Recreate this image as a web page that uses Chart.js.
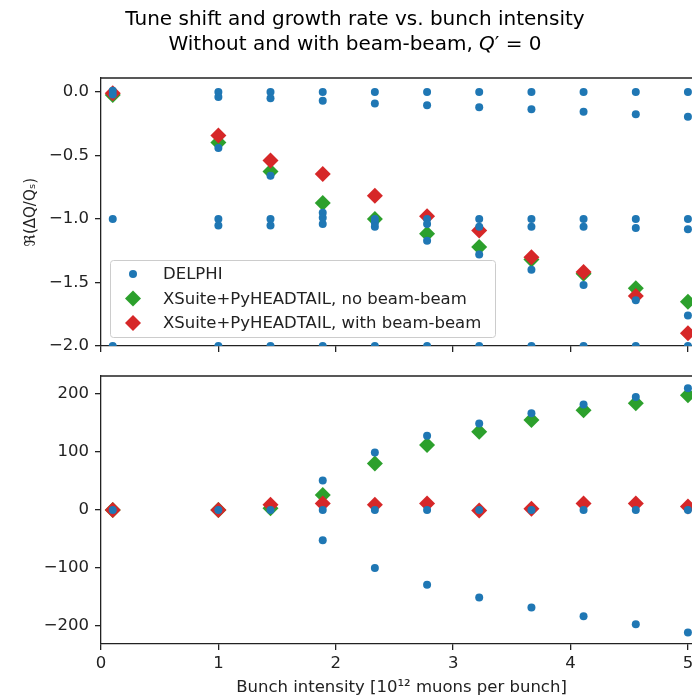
<!DOCTYPE html>
<html>
<head>
<meta charset="utf-8">
<script src="https://cdn.jsdelivr.net/npm/chart.js@4.4.1/dist/chart.umd.min.js"></script>
<style>
  html, body { margin: 0; padding: 0; background: #fff; overflow: hidden; }
  #wrap { position: relative; width: 692px; height: 700px; overflow: hidden; }
  canvas { position: absolute; left: 0; }
  #topChart { top: 0; }
  #bottomChart { top: 340px; }
</style>
</head>
<body>
<div id="wrap">
  <canvas id="topChart" width="720" height="362"></canvas>
  <canvas id="bottomChart" width="720" height="360"></canvas>
</div>
<script>
// bunch intensity [1e12 muons per bunch]
const intensity = [0.1, 1.0, 1.444, 1.889, 2.333, 2.778, 3.222, 3.667, 4.111, 4.556, 5.0];

// DELPHI, real part of tune shift (one array per mode branch)
const delphiReA = [0.01, 0, 0, 0, 0, 0, 0, 0, 0, 0, 0];
const delphiReB = [-0.02, -0.04, -0.05, -0.07, -0.09, -0.105, -0.12, -0.135, -0.155, -0.175, -0.195];
const delphiReC = [null, -0.44, -0.66, -0.95, -1.03, -1.17, -1.28, -1.40, -1.52, -1.64, -1.76];
const delphiReD = [-1.0, -1.0, -1.0, -0.99, -1.0, -1.0, -1.0, -1.0, -1.0, -1.0, -1.0];
const delphiReE = [null, -1.05, -1.05, -1.04, -1.06, -1.04, -1.06, -1.06, -1.06, -1.07, -1.08];
const delphiReF = [-2.0, -2.0, -2.0, -2.0, -2.0, -2.0, -2.0, -2.0, -2.0, -2.0, -2.0];

// DELPHI, growth rate
const delphiImZero = [0, 0, 0, 0, 0, 0, 0, 0, 0, 0, 0];
const delphiImPos = [null, null, null, 51, 99, 128, 149, 167, 182, 195, 210];
const delphiImNeg = [null, null, null, -52, -100, -129, -151, -168, -183, -197, -211];

// XSuite+PyHEADTAIL, no beam-beam
const noBbRe = [-0.024, -0.397, -0.625, -0.873, -1.0, -1.116, -1.221, -1.318, -1.43, -1.545, -1.65];
const noBbIm = [0, 0, 3, 26, 80, 112, 135, 155, 172, 184, 198];

// XSuite+PyHEADTAIL, with beam-beam
const bbRe = [-0.01, -0.342, -0.539, -0.646, -0.816, -0.978, -1.09, -1.30, -1.417, -1.605, -1.898];
const bbIm = [0, 0, 9, 11, 9, 11, -1, 2, 11, 11, 6];

const BLUE = '#1f77b4', GREEN = '#2ca02c', RED = '#d62728';
const INK = '#222';
const FONT = "'DejaVu Sans', sans-serif";

function pts(ys) {
  return intensity.map((x, i) => ({ x: x, y: ys[i] })).filter(p => p.y !== null);
}

const frame = {
  id: 'frame',
  afterDraw(chart) {
    const { ctx, chartArea: a } = chart;
    ctx.save();
    ctx.strokeStyle = INK;
    ctx.lineWidth = 1.3;
    ctx.beginPath();
    ctx.moveTo(a.left, a.top);
    ctx.lineTo(a.right, a.top);
    ctx.lineTo(a.right, a.bottom);
    ctx.stroke();
    ctx.restore();
  }
};

const titleText = {
  id: 'titleText',
  afterDraw(chart) {
    const ctx = chart.ctx;
    const cx = 355;
    ctx.save();
    ctx.fillStyle = '#000';
    ctx.textBaseline = 'middle';
    ctx.font = '20px ' + FONT;
    ctx.textAlign = 'center';
    ctx.fillText('Tune shift and growth rate vs. bunch intensity', cx, 20);
    const p1 = 'Without and with beam-beam, ';
    const p3 = '\u2032 = 0';
    ctx.font = '20px ' + FONT;
    const w1 = ctx.measureText(p1).width, w3 = ctx.measureText(p3).width;
    ctx.font = 'italic 20px ' + FONT;
    const w2 = ctx.measureText('Q').width;
    let x = cx - (w1 + w2 + w3) / 2;
    ctx.textAlign = 'left';
    ctx.font = '20px ' + FONT;
    ctx.fillText(p1, x, 45);
    x += w1;
    ctx.font = 'italic 20px ' + FONT;
    ctx.fillText('Q', x, 45);
    x += w2;
    ctx.font = '20px ' + FONT;
    ctx.fillText(p3, x, 45);
    ctx.restore();
  }
};

const legendBox = {
  id: 'legendBox',
  afterDatasetsDraw(chart) {
    const ctx = chart.ctx;
    const x0 = 110.5, y0 = 260.5, w = 385, h = 77;
    ctx.save();
    ctx.beginPath();
    ctx.roundRect(x0, y0, w, h, 3);
    ctx.fillStyle = 'rgba(255,255,255,0.8)';
    ctx.fill();
    ctx.strokeStyle = '#cccccc';
    ctx.lineWidth = 1;
    ctx.stroke();
    const items = [
      { label: 'DELPHI', color: BLUE, style: 'circle', r: 4 },
      { label: 'XSuite+PyHEADTAIL, no beam-beam', color: GREEN, style: 'rectRot', r: 8 },
      { label: 'XSuite+PyHEADTAIL, with beam-beam', color: RED, style: 'rectRot', r: 8 }
    ];
    ctx.font = '16.5px ' + FONT;
    ctx.textBaseline = 'middle';
    ctx.textAlign = 'left';
    items.forEach((it, i) => {
      const y = 274 + i * 24.5;
      ctx.fillStyle = it.color;
      ctx.strokeStyle = it.color;
      Chart.helpers.drawPoint(ctx, { pointStyle: it.style, radius: it.r, borderWidth: 0 }, 133, y);
      ctx.fillStyle = '#222';
      ctx.fillText(it.label, 163, y + 1);
    });
    ctx.restore();
  }
};

function tickFmt(dec) {
  return v => (v < 0 ? '\u2212' : '') + Math.abs(v).toFixed(dec);
}

const gridOpts = { drawOnChartArea: false, drawTicks: true, tickLength: 6, color: INK, lineWidth: 1.3 };
const borderOpts = { color: INK, width: 1.3 };
const tickFont = { family: FONT, size: 16.5 };

function scatterSet(label, data, color, style, r) {
  return {
    label: label, data: data,
    backgroundColor: color, borderColor: color, borderWidth: 0,
    pointStyle: style, pointRadius: r, pointHoverRadius: r, showLine: false
  };
}

const topDelphi = [delphiReA, delphiReB, delphiReC, delphiReD, delphiReE, delphiReF].flatMap(pts);
const bottomDelphi = [delphiImZero, delphiImPos, delphiImNeg].flatMap(pts);

new Chart(document.getElementById('topChart'), {
  type: 'scatter',
  data: {
    datasets: [
      scatterSet('DELPHI', topDelphi, BLUE, 'circle', 4),
      scatterSet('XSuite+PyHEADTAIL, with beam-beam', pts(bbRe), RED, 'rectRot', 8),
      scatterSet('XSuite+PyHEADTAIL, no beam-beam', pts(noBbRe), GREEN, 'rectRot', 8)
    ]
  },
  options: {
    responsive: false,
    animation: false,
    devicePixelRatio: 1,
    layout: { padding: { top: 78, left: 0, right: 18, bottom: 0 } },
    plugins: { legend: { display: false }, tooltip: { enabled: false } },
    scales: {
      x: {
        type: 'linear', min: 0, max: 5.12,
        grid: gridOpts, border: borderOpts,
        ticks: { display: false, stepSize: 1, includeBounds: false },
        afterFit: s => { s.height = 15; }
      },
      y: {
        min: -2.0, max: 0.11,
        grid: gridOpts, border: borderOpts,
        ticks: { stepSize: 0.5, includeBounds: false, color: INK, font: tickFont, padding: 6, callback: tickFmt(1) },
        title: {
          display: true, text: '\u211C(\u0394Q/Q\u209B)', color: INK,
          font: { family: FONT, size: 15 }, padding: { top: 22, bottom: 0 }
        },
        afterFit: s => { s.width = 101; }
      }
    }
  },
  plugins: [frame, titleText, legendBox]
});

new Chart(document.getElementById('bottomChart'), {
  type: 'scatter',
  data: {
    datasets: [
      scatterSet('DELPHI', bottomDelphi, BLUE, 'circle', 4),
      scatterSet('XSuite+PyHEADTAIL, with beam-beam', pts(bbIm), RED, 'rectRot', 8),
      scatterSet('XSuite+PyHEADTAIL, no beam-beam', pts(noBbIm), GREEN, 'rectRot', 8)
    ]
  },
  options: {
    responsive: false,
    animation: false,
    devicePixelRatio: 1,
    layout: { padding: { top: 36, left: 0, right: 18, bottom: 0 } },
    plugins: { legend: { display: false }, tooltip: { enabled: false } },
    scales: {
      x: {
        type: 'linear', min: 0, max: 5.12,
        grid: gridOpts, border: borderOpts,
        ticks: { stepSize: 1, includeBounds: false, color: INK, font: tickFont, padding: 4, maxRotation: 0, callback: tickFmt(0) },
        title: {
          display: true, text: 'Bunch intensity [10\u00B9\u00B2 muons per bunch]', color: INK,
          font: { family: FONT, size: 16.5 }, padding: { top: 0, bottom: 2 }
        },
        afterFit: s => { s.height = 56; }
      },
      y: {
        min: -231, max: 231,
        grid: gridOpts, border: borderOpts,
        ticks: { stepSize: 100, includeBounds: false, color: INK, font: tickFont, padding: 6, callback: tickFmt(0) },
        afterFit: s => { s.width = 101; }
      }
    }
  },
  plugins: [frame]
});
</script>
</body>
</html>
